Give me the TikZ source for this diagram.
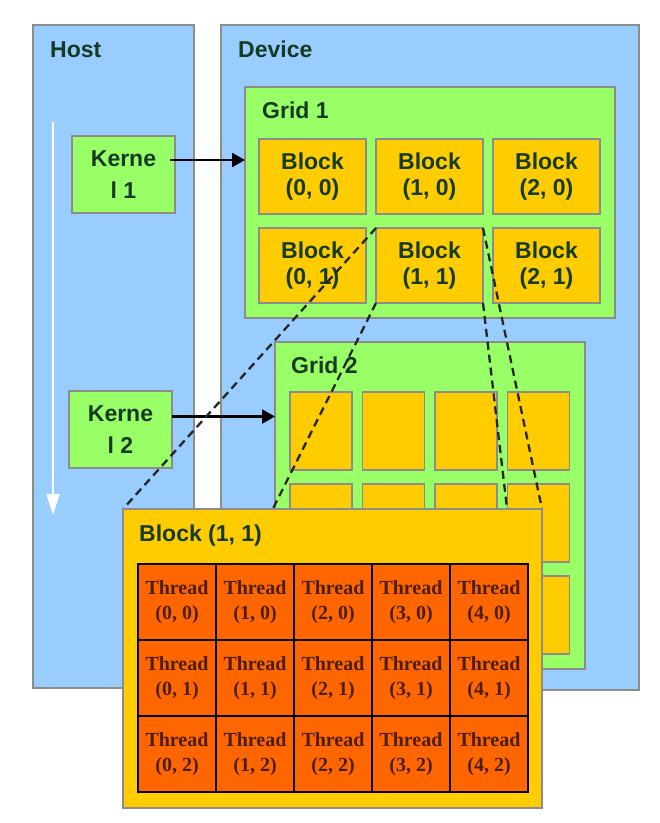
\documentclass[tikz,border=0pt]{standalone}
\usepackage{fontspec}
\setmainfont{Liberation Serif}
\setsansfont{Liberation Sans}
\usepackage{tikz}
\usetikzlibrary{arrows.meta,positioning}
\definecolor{HostBlue}{RGB}{153,204,255}
\definecolor{GridGreen}{RGB}{153,255,102}
\definecolor{BlockGold}{RGB}{255,204,0}
\definecolor{ThreadOrange}{RGB}{255,102,0}
\definecolor{EdgeGray}{RGB}{140,140,140}
\definecolor{LabelGreen}{RGB}{22,58,34}
\definecolor{ThreadBrown}{RGB}{75,30,5}

% the zoomed block sits above the dashed lines
\pgfdeclarelayer{front}
\pgfsetlayers{main,front}

\tikzset{
  panel/.style={draw=EdgeGray, line width=1.2pt, fill=HostBlue, anchor=north west,
    inner sep=0pt, outer sep=0pt},
  gridbox/.style={panel, fill=GridGreen},
  kernbox/.style={panel, fill=GridGreen, minimum width=103pt, minimum height=77pt,
    align=center, text=LabelGreen, font=\sffamily\bfseries\fontsize{23}{32}\selectfont},
  blockbox/.style={panel, fill=BlockGold, minimum width=107pt, minimum height=75pt,
    align=center, text=LabelGreen, font=\sffamily\bfseries\fontsize{23}{26}\selectfont},
  smallblock/.style={panel, fill=BlockGold, minimum width=62pt, minimum height=78pt},
  threadbox/.style={draw=black, line width=1.6pt, fill=ThreadOrange, anchor=north west,
    inner sep=0pt, outer sep=0pt, minimum width=78pt, minimum height=76pt,
    align=center, text=ThreadBrown, font=\rmfamily\bfseries\fontsize{20}{25}\selectfont},
  lbl/.style={anchor=base west, inner sep=0pt, text=LabelGreen,
    font=\sffamily\bfseries\fontsize{23}{26}\selectfont},
  launch/.style={line width=2.4pt, -{Triangle[width=14pt,length=13pt]}},
  zoomline/.style={line width=2.3pt, black!85, dash pattern=on 8pt off 5pt}
}

\begin{document}
\begin{tikzpicture}[x=1pt, y=-1pt]
    \useasboundingbox (0,0) rectangle (660,823);

    % Host and device panels
    \node [panel, minimum width=161pt, minimum height=663pt] (host) at (33,25) {};
    \node [panel, minimum width=418pt, minimum height=665pt] (device) at (221,25) {};
    \node [lbl] (hostlbl) at (50,57) {Host};
    \node [lbl] (devicelbl) at (238,57) {Device};

    % Host time line
    \coordinate (flowtop) at (53,122);
    \coordinate (flowend) at (53,515);
    \draw [white, line width=2pt, -{Triangle[width=13pt,length=21pt]}] (flowtop) -- (flowend);

    % Kernels
    \node [kernbox] (k1) at (72,136) {Kerne\\l 1};
    \node [kernbox] (k2) at (69,391) {Kerne\\l 2};

    % Grid 1 with 3x2 blocks
    \node [gridbox, minimum width=370pt, minimum height=231pt] (grid1) at (245,87) {};
    \node [lbl] (grid1lbl) at (262,118) {Grid 1};
    \foreach \i in {0,1,2}
        \foreach \j in {0,1}
            \node [blockbox] (b-\i-\j) at (259+117*\i, 139+89*\j) {Block\\(\i, \j)};

    % Grid 2 with 4x3 blocks
    \node [gridbox, minimum width=310pt, minimum height=327pt] (grid2) at (275,342) {};
    \node [lbl] (grid2lbl) at (291,373) {Grid 2};
    \foreach \i in {0,...,3}
        \foreach \j in {0,1,2}
            \node [smallblock] (g-\i-\j) at (290+72.5*\i, 392+92*\j) {};

    % Kernel launches
    \path ([yshift=14.5pt]k1.east) coordinate (k1out);
    \path ([yshift=13pt]k2.east) coordinate (k2out);
    \draw [launch] ([xshift=-5pt]k1out) -- (k1out -| grid1.west);
    \draw [launch] (k2out) -- (k2out -| grid2.west);

    % Block (1, 1) blown up, with its threads
    \begin{pgfonlayer}{front}
    \node [panel, fill=BlockGold, minimum width=419pt, minimum height=299pt] (big) at (123,509) {};
    \node [lbl] (biglbl) at (139,541) {Block (1, 1)};
    \foreach \i in {0,...,4}
        \foreach \j in {0,1,2}
            \node [threadbox] (t-\i-\j) at (138+78*\i, 564+76*\j) {Thread\\(\i, \j)};
    \end{pgfonlayer}

    % Zoom lines
    \draw [zoomline] (b-1-1.north west) -- (big.north west);
    \draw [zoomline] (b-1-1.north east) -- (big.north east);
    \draw [zoomline] (b-1-1.south west) -- (big.south west);
    \draw [zoomline] (b-1-1.south east) -- (big.south east);
\end{tikzpicture}
\end{document}
